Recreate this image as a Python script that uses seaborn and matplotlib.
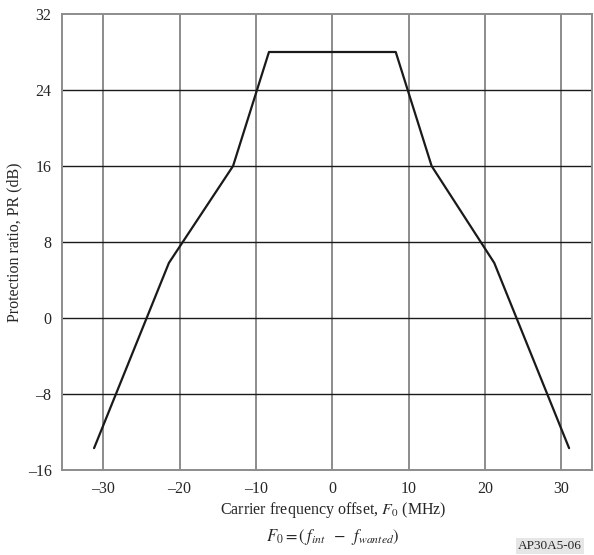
import matplotlib
matplotlib.use("Agg")
import matplotlib.pyplot as plt
import seaborn as sns
import pandas as pd

# Protection ratio mask
offset_mhz = [-31.2, -21.4, -13.0, -8.3, 8.3, 13.0, 21.2, 31.0]
pr_db = [-13.7, 5.8, 16.0, 28.0, 28.0, 16.0, 5.8, -13.7]

x_ticks = [-30, -20, -10, 0, 10, 20, 30]
y_ticks = [-16, -8, 0, 8, 16, 24, 32]
y_tick_labels = ["\u201316", "\u20138", "0", "8", "16", "24", "32"]
x_tick_labels = ["\u201330", "\u201320", "\u201310", "0", "10", "20", "30"]

df = pd.DataFrame({"offset": offset_mhz, "pr": pr_db})

sns.set_style("white")
plt.rcParams["font.family"] = ["Liberation Serif", "DejaVu Serif"]
plt.rcParams["mathtext.fontset"] = "stix"

fig = plt.figure(figsize=(5.94, 5.55), dpi=100)
ax = fig.add_axes([62 / 594, 85 / 555, 530 / 594, 456 / 555])

sns.lineplot(data=df, x="offset", y="pr", color="#1a1a1a", linewidth=1.6,
             sort=False, ax=ax, zorder=3)

ax.set_xlim(-35.4, 34.0)
ax.set_ylim(-16, 32)
ax.set_xticks(x_ticks)
ax.set_xticklabels(x_tick_labels)
ax.set_yticks(y_ticks)
ax.set_yticklabels(y_tick_labels)

for xv in x_ticks:
    ax.axvline(xv, color="#8c8c8c", linewidth=1.4, zorder=1)
for yv in y_ticks[1:-1]:
    ax.axhline(yv, color="#1a1a1a", linewidth=1.0, zorder=2)

for s in ax.spines.values():
    s.set_color("#8c8c8c")
    s.set_linewidth(1.4)

ax.tick_params(axis="y", length=2.5, width=1.0, color="#1a1a1a", labelsize=11.5, pad=5)
ax.tick_params(axis="x", length=0, labelsize=11.5, pad=8)

ax.set_xlabel("")
ax.set_ylabel("")
fig.text(14 / 594, 1 - 242 / 555, "Protection ratio, PR (dB)", rotation=90,
         ha="center", va="center", fontsize=11.5)

fig.text(333 / 594, 1 - 510 / 555, "Carrier frequency offset, $F_0$ (MHz)",
         ha="center", va="center", fontsize=11.5)
fig.text(333 / 594, 1 - 537 / 555,
         r"$F_0 = (\,f_{int}\;\;-\;\;f_{wanted})$",
         ha="center", va="center", fontsize=12)
fig.text(550 / 594, 1 - 546 / 555, "AP30A5-06", ha="center", va="center",
         fontsize=9.5, bbox=dict(facecolor="#e6e6e6", edgecolor="none", pad=1.5))

fig.savefig("out.png", dpi=100)
